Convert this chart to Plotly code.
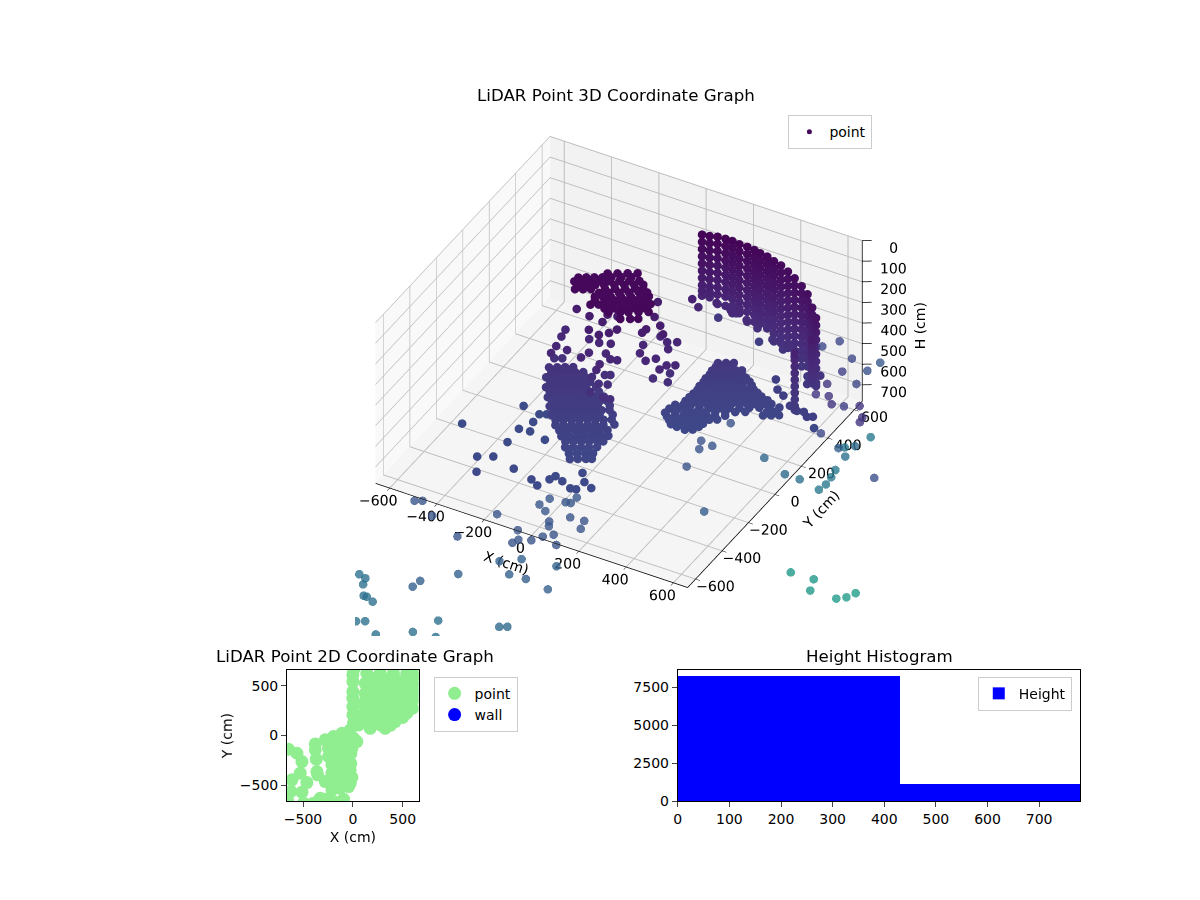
import plotly.graph_objects as go

# top blob near the ceiling
top_x = [-104, -72, -40, -8, -186, -160, -135, -106, -74, -42, -10, 22, -159, -133, -108, -63, -31, 1, 33, 59,
         -71, -45, -20, 12, 44, 76, 102, -60, -34, 4, 36, 68, 100, 132, 22, 60, 86, 118, 150, 81, 113, 139,
         -80, -48, -16, -185, -160, -134, -108, -158, -132, -107, -78, -46, -14, 18, 47,
         -70, -38, -6, 26, 58, 84, -59, -27, 5, 37, 69, 101, -3, 29, 61, 93, 125]
top_y = [100, 118, 137, 155, -5, 10, 24, 41, 60, 78, 96, 115, -48, -34, -19, 7, 26, 44, 63, 77,
         -55, -41, -26, -7, 11, 30, 44, -108, -93, -71, -52, -34, -15, 3, -118, -96, -82, -63, -44, -135, -117, -102,
         85, 104, 122, 24, 39, 54, 69, -18, -3, 12, 28, 47, 65, 84, 100,
         -26, -7, 11, 30, 48, 63, -77, -59, -40, -22, -3, 15, -104, -85, -67, -48, -30]
top_h = [68, 68, 68, 68, 66, 66, 66, 66, 66, 66, 66, 66, 64, 64, 64, 64, 64, 64, 64, 64,
         62, 62, 62, 62, 62, 62, 62, 60, 60, 60, 60, 60, 60, 60, 59, 59, 59, 59, 59, 57, 57, 57,
         67, 67, 67, 67, 67, 67, 67, 65, 65, 65, 65, 65, 65, 65, 65,
         63, 63, 63, 63, 63, 63, 61, 61, 61, 61, 61, 61, 60, 60, 60, 60, 60]

# drips hanging under the blob
drip_x = [-215, -151, -110, -91, -98, -60, -20, -61, -35, -141, -97, -99, -57, -42, -9, 16, -28, -20, -39, -21, -74, -31, 1, -30, 27, 55,
          24, 61, 107, 73, 71, 144, 80, 120, 152, 51, 145, 67, 136, 110, 192, 182, 220, 166, 127, 187, -248, -239, -225, -178, -109, -220]
drip_y = [65, 47, -31, 38, 89, 96, 21, -43, -13, 27, 24, -50, 40, -24, -49, -42, -96, -135, -37, -27, -72, -98, -87, -163, -167, -165,
          251, 160, 121, 75, 48, 76, 171, 150, 168, 92, 113, 39, 36, 5, 17, -19, 33, 89, 30, 35, 39, -8, -72, -74, -92, -120]
drip_h = [259, 257, 254, 256, 258, 257, 254, 252, 253, 351, 350, 348, 350, 348, 346, 346, 345, 343, 442, 442, 441, 440, 439, 437, 436, 436,
          261, 257, 255, 254, 253, 252, 352, 350, 350, 350, 349, 348, 346, 345, 344, 343, 344, 442, 441, 440, 354, 352, 349, 349, 346, 348]

# left floor blob
left_x = [-256, -230, -261, -235, -210, -184, -259, -234, -208, -183, -157, -135, -248, -223, -197, -172, -146, -120, -88,
          -231, -205, -180, -154, -129, -103, -78, -52, -207, -181, -155, -130, -104, -79, -53, -15,
          -183, -158, -132, -106, -81, -55, -30, 12, -153, -128, -102, -77, -51, -26, 0, 35,
          -116, -91, -65, -39, -14, 12, 34, -86, -61, -35, -10, 16, -53, -28, -2, 17,
          -132, -95, -74, -64, -27, 20, 42, 47, 13, 87,
          -248, -223, -197, -172, -146, -241, -215, -189, -164, -138, -113, -230, -204, -178, -153, -127, -102, -73,
          -209, -184, -158, -132, -107, -81, -56, -33, -186, -160, -135, -109, -83, -58, -32, -7,
          -161, -136, -110, -85, -59, -34, -8, 18, -132, -106, -80, -55, -29, -4, 22, -94, -69, -43, -18, 8, 27, -64, -38, -12, 13]
left_y = [-31, -17, -62, -47, -32, -17, -87, -72, -58, -43, -28, -15, -108, -93, -79, -64, -49, -34, -16,
          -125, -110, -95, -80, -65, -50, -36, -21, -154, -139, -124, -109, -95, -80, -65, -43,
          -182, -167, -153, -138, -123, -108, -93, -69, -207, -192, -177, -162, -147, -133, -118, -97,
          -228, -213, -198, -183, -168, -154, -141, -253, -238, -224, -209, -194, -276, -261, -246, -235,
          -426, -448, -393, -365, -380, -404, -399, -345, -299, -365,
          -68, -53, -38, -24, -9, -90, -75, -60, -45, -31, -16, -111, -96, -81, -66, -52, -37, -20,
          -133, -118, -104, -89, -74, -59, -44, -31, -163, -148, -133, -118, -103, -88, -74, -59,
          -191, -176, -161, -146, -131, -117, -102, -87, -215, -201, -186, -171, -156, -141, -126, -237, -222, -208, -193, -178, -167, -264, -249, -234, -219]
left_h = [448, 448, 473, 473, 473, 473, 503, 503, 503, 503, 503, 503, 533, 533, 533, 533, 533, 533, 533,
          563, 563, 563, 563, 563, 563, 563, 563, 578, 578, 578, 578, 578, 578, 578, 578,
          593, 593, 593, 593, 593, 593, 593, 593, 613, 613, 613, 613, 613, 613, 613, 613,
          638, 638, 638, 638, 638, 638, 638, 663, 663, 663, 663, 663, 692, 692, 692, 692,
          718, 718, 718, 718, 718, 718, 718, 718, 718, 718,
          488, 488, 488, 488, 488, 518, 518, 518, 518, 518, 518, 548, 548, 548, 548, 548, 548, 548,
          570, 570, 570, 570, 570, 570, 570, 570, 585, 585, 585, 585, 585, 585, 585, 585,
          603, 603, 603, 603, 603, 603, 603, 603, 625, 625, 625, 625, 625, 625, 625, 650, 650, 650, 650, 650, 650, 678, 678, 678, 678]

# right floor blob
right_x = [234, 260, 285, 220, 246, 271, 297, 316, 206, 231, 257, 283, 308, 334, 198, 223, 249, 274, 300, 326, 364,
           190, 215, 241, 266, 292, 317, 343, 368, 394, 176, 202, 227, 253, 278, 304, 329, 355, 380, 406, 438,
           136, 168, 200, 232, 264, 296, 328, 360, 391, 423, 455, 487, 140, 166, 192, 217, 243, 268, 294, 326, 447, 473, 498,
           165, 191, 216, 242, 267, 221, 246,
           230, 255, 281, 216, 241, 267, 292, 318, 204, 230, 256, 281, 307, 332, 351, 197, 223, 248, 274, 300, 325, 351, 376,
           183, 208, 234, 259, 285, 311, 336, 362, 387, 413, 149, 175, 200, 226, 251, 277, 302, 328, 354, 379, 405, 430, 456,
           129, 161, 193, 225, 257, 289, 321, 353, 385, 455, 481, 153, 178, 204, 230, 255, 281, 306, 189, 228, 260]
right_y = [330, 345, 359, 310, 324, 339, 354, 365, 288, 303, 318, 333, 348, 363, 256, 271, 286, 301, 316, 330, 353,
           224, 239, 254, 269, 284, 298, 313, 328, 343, 188, 203, 218, 233, 248, 263, 277, 292, 307, 322, 340,
           138, 156, 175, 193, 212, 230, 249, 267, 286, 305, 323, 342, 112, 127, 142, 157, 171, 186, 201, 220, 290, 305, 320,
           98, 113, 128, 143, 158, 103, 118,
           321, 336, 351, 301, 316, 331, 345, 360, 275, 290, 304, 319, 334, 349, 360, 242, 256, 271, 286, 301, 316, 331, 345,
           206, 221, 235, 250, 265, 280, 295, 310, 324, 339, 159, 174, 188, 203, 218, 233, 248, 263, 277, 292, 307, 322, 337,
           118, 137, 155, 174, 192, 211, 229, 248, 267, 307, 322, 106, 121, 135, 150, 165, 180, 195, 100, 122, 140]
right_h = [531, 531, 531, 559, 559, 559, 559, 559, 587, 587, 587, 587, 587, 587, 605, 605, 605, 605, 605, 605, 605,
           623, 623, 623, 623, 623, 623, 623, 623, 623, 640, 640, 640, 640, 640, 640, 640, 640, 640, 640, 640,
           658, 658, 658, 658, 658, 658, 658, 658, 658, 658, 658, 658, 676, 676, 676, 676, 676, 676, 676, 676, 676, 676, 676,
           695, 695, 695, 695, 695, 704, 704,
           545, 545, 545, 573, 573, 573, 573, 573, 596, 596, 596, 596, 596, 596, 596, 614, 614, 614, 614, 614, 614, 614, 614,
           631, 631, 631, 631, 631, 631, 631, 631, 631, 631, 649, 649, 649, 649, 649, 649, 649, 649, 649, 649, 649, 649, 649,
           667, 667, 667, 667, 667, 667, 667, 667, 667, 667, 667, 685, 685, 685, 685, 685, 685, 685, 700, 700, 700]

# loose points inside the box
loose_x = [-538, -382, -330, -335, -225, -331, -338, -293, -314, -319, -296, -397, -218,
           427, 463, 500, 552, 590, 615, 640, 659, 635, 604, 621,
           259, 86, 162, 102, 121, 167, 221, 278, 319, 370, 422]
loose_y = [-224, -389, -360, -478, -393, -251, -152, -148, -87, -31, -18, -11, -170,
           423, 371, 349, 306, 291, 298, 277, 288, 340, 343, 412,
           596, 597, 597, 372, 384, 440, 449, 468, 477, 499, 486]
loose_h = [741, 728, 728, 723, 724, 733, 739, 737, 741, 744, 744, 747, 734,
           600, 600, 600, 600, 600, 600, 600, 600, 700, 500, 500,
           600, 550, 500, 300, 340, 340, 360, 400, 430, 480, 500]

# wall: vertical scan columns
wall_col_x = [108, 137, 162, 194, 220, 253, 283, 313, 336, 363, 393, 423, 459, 495, 531, 563, 608, 640, 597, 641]
wall_col_y = [435, 441, 456, 459, 464, 458, 464, 464, 467, 472, 469, 469, 457, 443, 432, 419, 374, 346, 262, 313]
wall_col_h = [
    [28, 63, 98, 133, 168, 203, 238, 273, 300, 324],
    [28, 63, 98, 133, 168, 203, 238, 273, 300, 325],
    [32, 67, 102, 137, 172, 207, 242, 277, 312, 358],
    [32, 67, 102, 137, 172, 207, 242, 277, 312, 357],
    [36, 71, 106, 141, 176, 211, 246, 281, 316, 351, 386],
    [35, 70, 105, 140, 175, 210, 245, 280, 315, 345, 369],
    [40, 75, 110, 145, 180, 215, 250, 285, 320, 355, 403],
    [44, 79, 114, 149, 184, 219, 254, 289, 324, 359, 392],
    [53, 88, 123, 158, 193, 228, 263, 298, 333, 365, 395],
    [62, 97, 132, 167, 202, 237, 272, 307, 342, 377, 410],
    [71, 106, 141, 176, 211, 246, 281, 316, 351, 386, 421, 460],
    [80, 115, 150, 185, 220, 255, 290, 325, 360, 395, 430, 457],
    [88, 123, 158, 193, 228, 263, 298, 333, 368, 403, 438, 458],
    [97, 132, 167, 202, 237, 272, 307, 342, 377, 412, 447, 476],
    [114, 149, 184, 219, 254, 289, 324, 359, 394, 429, 464, 503],
    [132, 167, 202, 237, 272, 307, 342, 377, 412, 447, 482, 530],
    [149, 184, 219, 254, 289, 324, 359, 394, 429, 464, 499, 516],
    [168, 203, 238, 273, 308, 343, 378, 413, 448, 483, 498],
    [298, 330, 362, 394, 426, 458, 490, 522, 554, 573],
    [250, 280, 310, 340, 370, 400, 430, 445],
]

# points that fall outside the plot box
far_x = [-533, -507, -427, -223, -278, -104, -81, -71, -27, -3, 26, 68, -104, -118, -78, -41, -22, -32, -17, 23, 80, 94, -21,
         -155, -91, 45, -247, -81, -12, 92, -347, -352,
         -741, -700, -668, -657, -621, -608, -574, -639, -568, -539, -306, -353, -465, -28, -2, -264,
         377, 247, 235, 267, 247, 289, 347, 431, 432, 463, 470, 465, 457, 510, 450, 587, 572, 471, 917, 373, 468, 491, 568, 597, 614,
         455, 415, 547, 617, 638, 571, 526, 728, 839, 882, 889, 744, 668, 710, 663, 673]
far_y = [-593, -579, -649, -523, -724, -579, -661, -633, -614, -571, -540, -595, -338, -390, -417, -330, -326, -471, -499, -410, -406, -457, -282,
         -626, -574, -553, -774, -685, -682, -702, -883, -930,
         -722, -712, -723, -760, -820, -820, -836, -903, -972, -955, -820, -927, -1007, -855, -840, -913,
         -30, 70, 187, 228, 180, 328, 479, 484, 594, 684, 725, 773, 820, 799, 903, 610, 762, 1061, 291, 632, 636, 569, 628, 653, 692,
         855, 796, 784, 585, 655, 857, 1035, 400, 319, 263, 232, 278, 380, 317, 304, 324]
far_h = [861, 861, 855, 855, 847, 849, 845, 846, 845, 847, 848, 844, 861, 859, 857, 860, 859, 853, 851, 854, 852, 850, 862,
         987, 988, 985, 983, 982, 980, 977, 980, 978,
         1200, 1200, 1200, 1200, 1200, 1200, 1200, 1200, 1200, 1200, 1200, 1200, 1200, 1100, 1100, 1200,
         950, 850, 850, 850, 800, 800, 1050, 1100, 1200, 1300, 1300, 1300, 1300, 1200, 1250, 1000, 1100, 1300, 800, 1700, 1700, 1700, 1750, 1750, 1750,
         700, 700, 700, 600, 700, 800, 900, 600, 500, 500, 500, 500, 500, 500, 500, 700]

# top-down view
plan_x = [-645, -561, -511, -528, -461, -611, -621, -511, -655, -377, -377, -367, -361, -354, -277, -327, -277, -94, -194, -394, -494,
          -277, -194, -110, -27, -244, -160, -77, 7, -244, -160, -77, -10, -210, -127, -43, -210, -127, -27, -194, -110, -27, -210, -127, -43,
          0, 0, 0, 0, 0, 7, 57, 7, 140, 274, 407, 541, 641,
          124, 240, 357, 474, 591, 124, 240, 357, 474, 574, 107, 224, 341, 458, 558, 107, 224, 341, 458, 541, 107, 224, 341, 424, 174, 324,
          182, 299, 416, 533, 640, 182, 299, 416, 533, 640, 165, 282, 400, 510, 620, 165, 282, 400, 500, 600, 165, 282, 400, 500, 165, 282, 380,
          -235, -150, -60, -200, -120, -40, 40, -200, -85, -20, -170, -75, -20, -160, -70, -160, -75, -10, 0]
plan_y = [-137, -177, -261, -377, -471, -444, -561, -568, -645, -84, -144, -237, -361, -394, -461, -628, -638, -638, -661, -678, -678,
          -43, -10, 23, 57, -127, -94, -60, -27, -210, -177, -144, -127, -294, -261, -227, -377, -344, -344, -461, -444, -478, -544, -528, -511,
          608, 441, 374, 291, 207, 124, 107, 658, 625, 625, 625, 625, 625,
          524, 524, 524, 524, 524, 424, 424, 424, 424, 424, 324, 324, 324, 324, 324, 224, 224, 224, 224, 224, 140, 140, 140, 140, 73, 73,
          574, 574, 574, 574, 574, 474, 474, 474, 474, 474, 374, 374, 374, 374, 374, 274, 274, 274, 274, 274, 182, 182, 182, 182, 105, 105, 105,
          -85, -50, 0, -170, -130, -90, -60, -255, -215, -180, -335, -300, -280, -410, -400, -500, -480, -420, 540]
wall_x = [None]
wall_y = [None]

bin_left = [0, 430]
bin_width = [430, 350]
bin_count = [8250, 1180]

xy_ticks = [-600, -400, -200, 0, 200, 400, 600]
h_ticks = [0, 100, 200, 300, 400, 500, 600, 700]
h_tick_labels = ["0", "100", "200", "300", "400", "500", "600", "700"]

FONT = "DejaVu Sans"
W, H = 1200, 900
PAD_X, PAD_Y = 8, 8  # the page sits a little off the window corner
PAPER_H = 891
LIM = 660
H_MAX = 780
BOX = 1.347  # orthographic view size comes from the aspect ratio, not the eye distance
Z_SHARE = 0.56

pt_x = top_x + drip_x + left_x + right_x + loose_x
pt_y = top_y + drip_y + left_y + right_y + loose_y
pt_h = top_h + drip_h + left_h + right_h + loose_h
for cx, cy, hs in zip(wall_col_x, wall_col_y, wall_col_h):
    pt_x += [cx] * len(hs)
    pt_y += [cy] * len(hs)
    pt_h += hs


def px(v):
    return (v - PAD_X) / W


def py(v):
    return 1 - (v - PAD_Y) / PAPER_H


marker3d = dict(size=5, colorscale="Viridis", cmin=0, cmax=3200, line=dict(width=0))
fig = go.Figure()
fig.add_trace(go.Scatter3d(x=pt_x, y=pt_y, z=pt_h, mode="markers", name="point", scene="scene", legend="legend",
                           marker=dict(color=pt_h, opacity=1, **marker3d)))
fig.add_trace(go.Scatter3d(x=far_x, y=far_y, z=far_h, mode="markers", scene="scene2", showlegend=False,
                           marker=dict(color=far_h, opacity=0.8, **marker3d)))

# axis lines along the front edges and the H axis on the right corner
edge_x = [-LIM, LIM, LIM, None, LIM, LIM]
edge_y = [-LIM, -LIM, LIM, None, LIM, LIM]
edge_z = [H_MAX, H_MAX, H_MAX, None, H_MAX, 0]
for t in h_ticks:
    edge_x += [None, LIM, LIM + 30]
    edge_y += [None, LIM, LIM + 18]
    edge_z += [None, t, t]
fig.add_trace(go.Scatter3d(x=edge_x, y=edge_y, z=edge_z, mode="lines", scene="scene2", showlegend=False,
                           line=dict(color="black", width=1.5)))
# H tick labels sit a little below their ticks
fig.add_trace(go.Scatter3d(x=[LIM + 100] * len(h_ticks), y=[LIM + 58] * len(h_ticks), z=[t + 35 for t in h_ticks], mode="text", text=h_tick_labels,
                           textposition="middle center", scene="scene2", showlegend=False,
                           textfont=dict(size=14, family=FONT, color="black")))

fig.add_trace(go.Scatter(x=plan_x, y=plan_y, mode="markers", name="point", legend="legend2", xaxis="x", yaxis="y",
                         marker=dict(size=13, color="#90ee90")))
fig.add_trace(go.Scatter(x=wall_x, y=wall_y, mode="markers", name="wall", legend="legend2", xaxis="x", yaxis="y",
                         marker=dict(size=13, color="blue")))
fig.add_trace(go.Bar(x=bin_left, y=bin_count, width=bin_width, offset=0, name="Height", legend="legend3", xaxis="x2", yaxis="y2",
                     marker=dict(color="blue", line=dict(width=0))))

camera = dict(eye=dict(x=0.646, y=-0.853, z=0.748), center=dict(x=0.1286, y=0.072, z=-0.04), up=dict(x=0, y=0, z=1),
              projection=dict(type="orthographic"))
dom = dict(x=[px(352), px(960)], y=[py(635), py(105)])


def axis3d(title, rng, ticks, bg):
    return dict(title=dict(text=title, font=dict(size=14, family=FONT)), range=rng, tickvals=ticks, tickangle=0,
                tickfont=dict(size=13, family=FONT), showbackground=True, backgroundcolor=bg, gridcolor="#bdbdbd",
                showline=False, zeroline=False, showspikes=False, ticks="outside", ticklen=5, tickcolor="black")


zaxis = axis3d("", [H_MAX, 0], h_ticks, "#f5f5f5")
zaxis.update(showticklabels=False, ticks="")
hidden = dict(visible=False)
axis2d = dict(ticks="outside", showline=True, mirror=True, linecolor="black", showgrid=False, zeroline=False)

fig.update_layout(
    width=W, height=H, margin=dict(l=0, r=0, t=0, b=0), paper_bgcolor="white", plot_bgcolor="white",
    font=dict(family=FONT, size=14, color="black"), bargap=0,
    scene=dict(domain=dom, camera=camera, aspectmode="manual", aspectratio=dict(x=BOX, y=BOX, z=Z_SHARE * BOX),
               xaxis=axis3d("X (cm)", [-LIM, LIM], xy_ticks, "#f9f9f9"),
               yaxis=axis3d("Y (cm)", [-LIM, LIM], xy_ticks, "#f2f2f2"),
               zaxis=zaxis),
    scene2=dict(domain=dom, camera=camera, aspectmode="manual", aspectratio=dict(x=4 * BOX, y=4 * BOX, z=4 * Z_SHARE * BOX), bgcolor="rgba(0,0,0,0)",
                xaxis=dict(range=[-2640, 2640], **hidden), yaxis=dict(range=[-2640, 2640], **hidden), zaxis=dict(range=[1950, -1170], **hidden)),
    xaxis=dict(domain=[px(284), px(416)], anchor="y", range=[-LIM, LIM], tickvals=[-500, 0, 500],
               title=dict(text="X (cm)", standoff=6, font=dict(size=14)), **axis2d),
    yaxis=dict(domain=[py(800.5), py(669)], anchor="x", range=[-LIM, LIM], tickvals=[-500, 0, 500],
               title=dict(text="Y (cm)", standoff=4, font=dict(size=14)), **axis2d),
    xaxis2=dict(domain=[px(676), px(1080)], anchor="y2", range=[0, H_MAX], tickvals=h_ticks, **axis2d),
    yaxis2=dict(domain=[py(800.5), py(669)], anchor="x2", range=[0, 8650], tickvals=[0, 2500, 5000, 7500], **axis2d),
    legend=dict(x=px(787), y=py(115), xanchor="left", yanchor="top", bordercolor="#cccccc", borderwidth=1, font=dict(size=14)),
    legend2=dict(x=px(431), y=py(676), xanchor="left", yanchor="top", bordercolor="#cccccc", borderwidth=1, font=dict(size=14)),
    legend3=dict(x=px(977), y=py(676), xanchor="left", yanchor="top", bordercolor="#cccccc", borderwidth=1, font=dict(size=14)),
    annotations=[
        dict(text="LiDAR Point 3D Coordinate Graph", x=px(614), y=py(95), xref="paper", yref="paper", xanchor="center", yanchor="middle", showarrow=False, font=dict(size=16.67)),
        dict(text="LiDAR Point 2D Coordinate Graph", x=px(352), y=py(656), xref="paper", yref="paper", xanchor="center", yanchor="middle", showarrow=False, font=dict(size=16.67)),
        dict(text="Height Histogram", x=px(878), y=py(656), xref="paper", yref="paper", xanchor="center", yanchor="middle", showarrow=False, font=dict(size=16.67)),
        dict(text="H (cm)", x=px(919), y=py(325), xref="paper", yref="paper", xanchor="center", yanchor="middle", textangle=-90, showarrow=False, font=dict(size=14)),
    ],
)

fig.write_html("out.html")
